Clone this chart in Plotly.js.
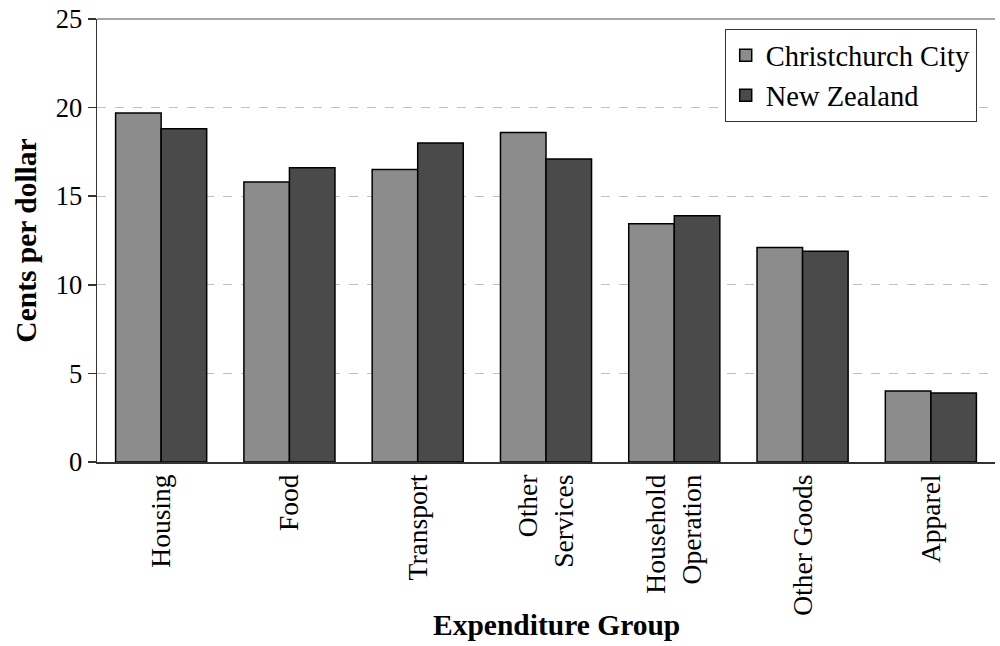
<!DOCTYPE html>
<html>
<head>
<meta charset="utf-8">
<script src="https://cdn.plot.ly/plotly-3.0.1.min.js"></script>
<style>html,body{margin:0;padding:0;background:#fff;}#chart{width:1000px;height:646px;}</style>
</head>
<body>
<div id="chart"></div>
<script>
var categories = ["Housing", "Food", "Transport", "Other<br>Services", "Household<br>Operation", "Other Goods", "Apparel"];
var christchurch = [19.7, 15.8, 16.5, 18.6, 13.45, 12.1, 4.0];
var newZealand = [18.8, 16.6, 18.0, 17.1, 13.9, 11.9, 3.9];
var yTicks = [0, 5, 10, 15, 20, 25];
var seriesNames = ["Christchurch City", "New Zealand"];
var xTitle = "Expenditure Group";
var yTitle = "Cents per dollar";

var font = "Liberation Serif, Times New Roman, serif";

var traces = [
  {type: "bar", name: seriesNames[0], x: categories, y: christchurch,
   marker: {color: "#8c8c8c", line: {color: "#000", width: 1.5}}},
  {type: "bar", name: seriesNames[1], x: categories, y: newZealand,
   marker: {color: "#4a4a4a", line: {color: "#000", width: 1.5}}}
];

var layout = {
  width: 1000, height: 646,
  margin: {l: 97, r: 5, t: 19, b: 184},
  paper_bgcolor: "#fff", plot_bgcolor: "#fff",
  font: {family: font, color: "#000", size: 26},
  barmode: "group", bargap: 0.29, bargroupgap: 0,
  showlegend: true,
  legend: {x: 0.699, y: 0.977, xanchor: "left", yanchor: "top",
           bordercolor: "#333", borderwidth: 1, bgcolor: "#fff",
           font: {family: font, size: 28.5, color: "#000"},
           itemwidth: 30, tracegroupgap: 0},
  xaxis: {
    type: "category", tickangle: -90, showgrid: false,
    showline: true, linecolor: "#333", linewidth: 1.5,
    ticks: "", tickfont: {family: font, size: 27.5, color: "#000"},
    automargin: false
  },
  yaxis: {
    range: [0, 25], tickvals: yTicks, ticktext: yTicks.map(String),
    showgrid: true, gridcolor: "#c0c0c0", griddash: "dash", gridwidth: 1,
    zeroline: false,
    showline: true, linecolor: "#333", linewidth: 1.5,
    ticks: "outside", ticklen: 8, tickcolor: "#333", tickwidth: 1.5,
    tickfont: {family: font, size: 26.5, color: "#000"},
    automargin: false
  },
  annotations: [
    {text: xTitle, xref: "paper", yref: "paper", x: 0.512, y: -0.368,
     xanchor: "center", yanchor: "middle", showarrow: false,
     font: {family: font, size: 29.5, color: "#000", weight: "bold"}},
    {text: yTitle, xref: "paper", yref: "paper", x: -0.08, y: 0.5, textangle: -90,
     xanchor: "center", yanchor: "middle", showarrow: false,
     font: {family: font, size: 29.5, color: "#000", weight: "bold"}}
  ],
  shapes: [
    {type: "line", xref: "paper", yref: "paper", x0: 0, x1: 1, y0: 1, y1: 1,
     line: {color: "#888", width: 1.5}}
  ]
};

Plotly.newPlot("chart", traces, layout, {displayModeBar: false, staticPlot: true});
</script>
</body>
</html>
